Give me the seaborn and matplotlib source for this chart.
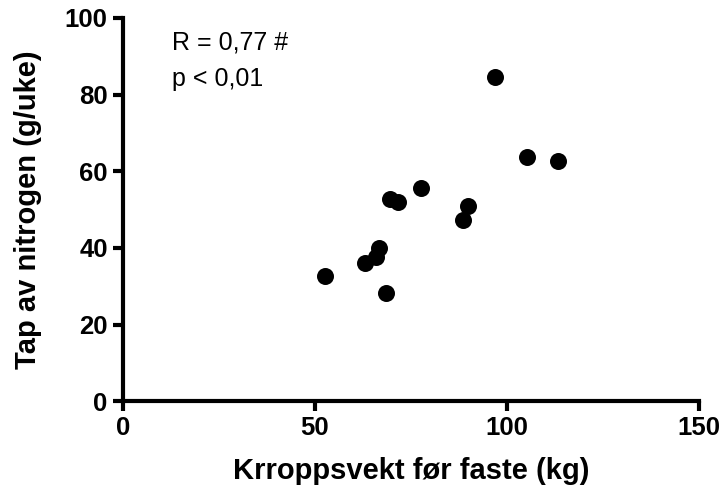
import matplotlib
matplotlib.use("Agg")
import matplotlib.pyplot as plt
import seaborn as sns
import pandas as pd

# Body weight before fasting (kg) and weekly nitrogen loss (g/week)
body_weight = [52.6, 68.5, 63.1, 65.9, 66.6, 69.4, 71.5, 77.6, 88.5, 89.8, 96.9, 105.1, 113.2]
nitrogen_loss = [32.6, 28.3, 36.1, 37.7, 40.1, 52.7, 52.0, 55.6, 47.4, 51.0, 84.5, 63.8, 62.7]

x_ticks = [0, 50, 100, 150]
y_ticks = [0, 20, 40, 60, 80, 100]

df = pd.DataFrame({"vekt": body_weight, "nitrogen": nitrogen_loss})

sns.set_theme(style="ticks")
plt.rcParams["font.family"] = ["Liberation Sans", "DejaVu Sans"]
plt.rcParams["text.color"] = "black"
plt.rcParams["axes.labelcolor"] = "black"
plt.rcParams["xtick.color"] = "black"
plt.rcParams["ytick.color"] = "black"

fig = plt.figure(figsize=(7.23, 4.99), dpi=100)
ax = fig.add_axes([0.170, 0.196, 0.797, 0.768])

sns.scatterplot(data=df, x="vekt", y="nitrogen", ax=ax, color="black",
                s=150, edgecolor="black", linewidth=0, clip_on=False, zorder=3)

ax.set_xlim(0, 150)
ax.set_ylim(0, 100)
ax.set_xticks(x_ticks)
ax.set_yticks(y_ticks)
ax.set_xticklabels([str(t) for t in x_ticks], fontsize=18.5, fontweight="bold")
ax.set_yticklabels([str(t) for t in y_ticks], fontsize=18.5, fontweight="bold")

for side in ["top", "right"]:
    ax.spines[side].set_visible(False)
for side in ["left", "bottom"]:
    ax.spines[side].set_linewidth(3)
    ax.spines[side].set_color("black")
ax.tick_params(axis="both", direction="out", length=7, width=3, pad=4)

ax.set_xlabel("Krroppsvekt før faste (kg)", fontsize=21, fontweight="bold")
ax.set_ylabel("Tap av nitrogen (g/uke)", fontsize=21, fontweight="bold")
ax.xaxis.set_label_coords(0.5, -0.145)
ax.yaxis.set_label_coords(-0.14, 0.5)

ax.text(0.085, 0.935, "R = 0,77 #", transform=ax.transAxes, fontsize=18,
        ha="left", va="center")
ax.text(0.085, 0.84, "p < 0,01", transform=ax.transAxes, fontsize=18,
        ha="left", va="center")

fig.savefig("out.png", dpi=100, facecolor="white")
